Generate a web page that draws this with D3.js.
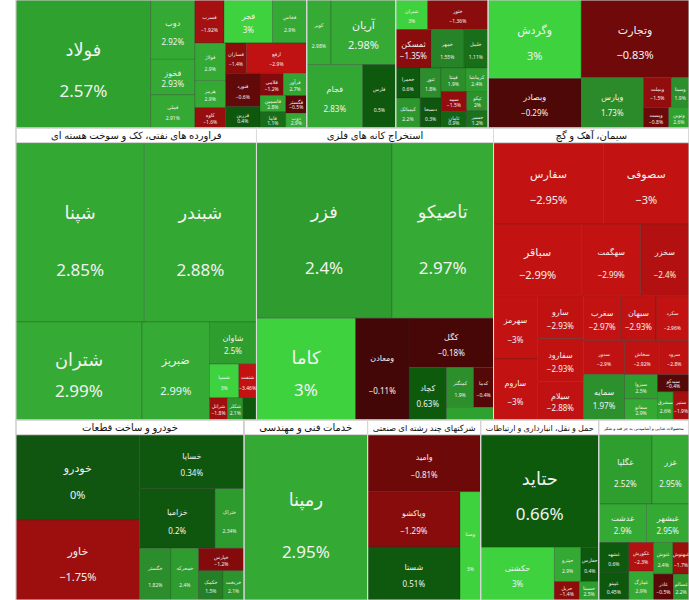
<!DOCTYPE html>
<html><head><meta charset="utf-8">
<script src="https://cdn.jsdelivr.net/npm/d3@7"></script>
<style>body{margin:0;background:#fff;overflow:hidden}svg{display:block}</style>
</head><body><svg id="c" width="689" height="600"></svg>
<script>
// ---- data ----
const rowTitles = [
  ["", "", "", ""],
  ["فراورده های نفتی، کک و سوخت هسته ای", "استخراج کانه های فلزی", "سیمان، آهک و گچ"],
  ["خودرو و ساخت قطعات", "خدمات فنی و مهندسی", "شرکتهای چند رشته ای صنعتی", "حمل و نقل، انبارداری و ارتباطات", "محصولات غذایی و آشامیدنی به جز قند و شکر"]
];
const s1Names = ["فولاد","دوب","فخوز","فملی","فسرب","فجر","فخاس","فولاژ","هرمز","کاوه","فسازان","ارفع","فنورد","فزرین","فلامی","فرآور","فاسمین","فاما","فگستر","ذوب"];
const s1Values = [16500,2500,1500,1400,1200,2000,1400,1100,800,600,600,1750,1100,700,500,500,400,400,350,300];
const s1Change = [2.57,2.92,2.93,2.91,-1.92,3,2.9,2.9,2.9,-1.6,-1.4,-2.9,-0.6,0.4,-1.2,2.7,2.8,1.1,-0.5,2.9];
const s2Names = ["کویر","آریان","فجام","فارس"];
const s2Values = [1500,4000,3400,2000];
const s2Change = [2.98,2.98,2.83,0.5];
const s3Names = ["شیران","ختور","ثمسکن","خمهر","خلیبل","خعمرا","کیمیاتک","ثنور","دسبحا","فپنتا","کرماشا","سپید","ثامان","تپکو","حسیر"];
const s3Values = [900,1700,1300,1200,900,700,700,600,600,550,500,500,400,400,350];
const s3Change = [3,-1.36,-1.35,1.55,1.11,0.6,2.2,1.8,0.3,1.9,2.4,-1.5,0.9,2.0,1.2];
const s4Names = ["وگردش","وبصادر","وتجارت","وپارس","وبملت","وسینا","وپست","ونوین"];
const s4Values = [7000,4400,8000,3000,800,500,500,400];
const s4Change = [3,-0.29,-0.83,1.73,-1.5,1.9,-0.8,2.6];
const n1Names = ["شپنا","شبندر","شتران","ضبریز","شاوان","شسپا","شنفت","شرانل","شکلر","شپاس"];
const n1Values = [23200,20300,12500,6700,2000,1000,600,400,350,300];
const n1Change = [2.85,2.88,2.99,2.99,2.5,3,-3.46,-1.8,2.1,0.4];
const k1Names = ["فزر","تاصیکو","کاما","ومعادن","کگل","کچاد","کمنگنز","کدما","کپرور"];
const k1Values = [24000,18000,10200,5500,4200,2000,1100,800,600];
const k1Change = [2.4,2.97,3,-0.11,-0.18,0.63,1.9,-0.4,2.6];
const c1Names = ["سفارس","سصوفی","سباقر","سهگمت","سخزر","سهرمز","ساروم","سارو","سفارود","سیلام","سغرب","سبهان","سکرد","سدور","سمایه","سخاش","سرود","سبزوا","سفانو","سیدکو","سشرق","سنیر"];
const c1Values = [9000,7000,6400,4300,3500,2800,2700,2000,2000,1800,1700,1600,1500,1400,1900,1200,1000,800,700,550,450,450];
const c1Change = [-2.95,-3,-2.99,-2.99,-2.4,-3,-3,-2.93,-2.93,-2.88,-2.97,-2.93,-2.96,-2.9,1.97,-2.92,-2.8,2.5,2.9,-0.4,2.6,-1.9];
const a1Names = ["خودرو","خاور","خساپا","خزامیا","ختراک","خگستر","خمحرکه","خپارس","خکمک","خریخت"];
const a1Values = [10300,9700,5500,4400,1700,1600,1400,1000,700,600];
const a1Change = [0,-1.75,0.34,0.2,2.34,1.82,2.4,-1.2,1.5,2.1];
const e1Names = ["رمپنا"];
const e1Values = [20000];
const e1Change = [2.95];
const m1Names = ["وامید","وپاکشو","شستا","وصنا"];
const m1Values = [6300,5000,4800,2200];
const m1Change = [-0.81,-1.29,0.51,3];
const t1Names = ["حتاید","حکشتی","حپترو","حفارس","حریل","حسینا"];
const t1Values = [13000,3800,900,600,450,350];
const t1Change = [0.66,3,2.9,0.4,-1.4,2.5];
const f1Names = ["غگلپا","غزر","غدشت","غبشهر","غشهد","غپینو","غکورش","غمارگ","غنوش","غبهنوش","غاذر","غسالم"];
const f1Values = [3600,2500,1800,1600,900,800,700,700,600,500,500,400];
const f1Change = [2.52,2.95,2.9,2.95,0.6,0.45,-2.3,2.9,2.4,-1.7,-0.5,2.2];
const rowHeights = [128, 292, 180];

const rows = [
  [[s1Names,s1Values,s1Change],[s2Names,s2Values,s2Change],[s3Names,s3Values,s3Change],[s4Names,s4Values,s4Change]],
  [[n1Names,n1Values,n1Change],[k1Names,k1Values,k1Change],[c1Names,c1Values,c1Change]],
  [[a1Names,a1Values,a1Change],[e1Names,e1Values,e1Change],[m1Names,m1Values,m1Change],[t1Names,t1Values,t1Change],[f1Names,f1Values,f1Change]]
];

const color = d3.scaleLinear()
  .domain([-3,-2,-1,-0.1,0,0.7,1.7,2.5,2.99,3])
  .range(["#c31212","#a91010","#7a0a0a","#430707","#105510","#0d5a0d","#2b8a2b","#2e9f2e","#35ab35","#3fd23f"])
  .clamp(true);

const svg = d3.select("#c");
const fam = "'Noto Sans','DejaVu Sans',sans-serif";
const x0 = 16, W = 689 - 16;
let y = 0;
rows.forEach((row, ri) => {
  const H = rowHeights[ri];
  const header = ri === 0 ? 0 : 15;
  const root = d3.hierarchy({children: row.map((s, si) => ({title: rowTitles[ri][si], children: s[0].map((n, i) => ({name: n, value: s[1][i], ch: s[2][i]}))}))})
    .sum(d => d.value || 0);
  d3.treemap()
    .size([W, H])
    .paddingTop(d => d.depth === 1 ? header : 0)
    .tile((node, a, b, c, d) => node.depth === 0 ? d3.treemapDice(node, a, b, c, d) : d3.treemapSquarify.ratio(1)(node, a, b, c, d))
    (root);
  const g = svg.append("g").attr("transform", `translate(${x0},${y})`);
  const leaves = g.selectAll("g.leaf").data(root.leaves()).join("g").attr("class","leaf")
    .attr("transform", d => `translate(${d.x0},${d.y0})`);
  leaves.append("rect").attr("width", d => d.x1 - d.x0).attr("height", d => d.y1 - d.y0)
    .attr("fill", d => color(d.data.ch)).attr("stroke", "#1e2a1e").attr("stroke-opacity", 0.45).attr("stroke-width", 0.6);
  leaves.each(function(d) {
    const w = d.x1 - d.x0, h = d.y1 - d.y0;
    const m = Math.min(w, h);
    if (m < 14) return;
    const fs = m > 90 ? 17 : m > 60 ? 11 : m > 35 ? 8 : 5;
    const sel = d3.select(this);
    sel.append("text").attr("x", w/2).attr("y", h*0.4).attr("text-anchor","middle").attr("dominant-baseline","middle")
      .attr("fill","#f2f2f2").attr("font-family",fam).attr("font-size", fs * (m > 90 ? 1.05 : 1)).text(d.data.name);
    sel.append("text").attr("x", w/2).attr("y", h*0.72).attr("text-anchor","middle").attr("dominant-baseline","middle")
      .attr("fill","#f2f2f2").attr("font-family",fam).attr("font-size", fs).text(d3.format("")(d.data.ch) + "%");
  });
  if (header) {
    const sec = g.selectAll("g.sec").data(root.children).join("g").attr("class","sec");
    sec.append("rect").attr("x", d => d.x0).attr("y", d => d.y0).attr("width", d => d.x1 - d.x0).attr("height", header)
      .attr("fill","#fff").attr("stroke","#999").attr("stroke-width",0.8);
    sec.append("text").attr("x", d => (d.x0 + d.x1)/2).attr("y", d => d.y0 + header/2 + 1)
      .attr("text-anchor","middle").attr("dominant-baseline","middle").attr("font-size",10)
      .attr("font-family",fam).attr("fill","#111").text(d => d.data.title)
      .each(function(d) {
        const avail = d.x1 - d.x0 - 10;
        if (this.getComputedTextLength() > avail) {
          d3.select(this).attr("font-size", 10 * avail / this.getComputedTextLength());
        }
      });
    sec.append("rect").attr("x", d => d.x0).attr("y", d => d.y0).attr("width", d => d.x1 - d.x0).attr("height", d => d.y1 - d.y0)
      .attr("fill","none").attr("stroke","#ddd").attr("stroke-width",1);
  } else {
    g.selectAll("rect.sb").data(root.children).join("rect").attr("class","sb")
      .attr("x", d => d.x0).attr("y", d => d.y0).attr("width", d => d.x1 - d.x0).attr("height", d => d.y1 - d.y0)
      .attr("fill","none").attr("stroke","#ddd").attr("stroke-width",1);
  }
  y += H;
});
</script></body></html>
